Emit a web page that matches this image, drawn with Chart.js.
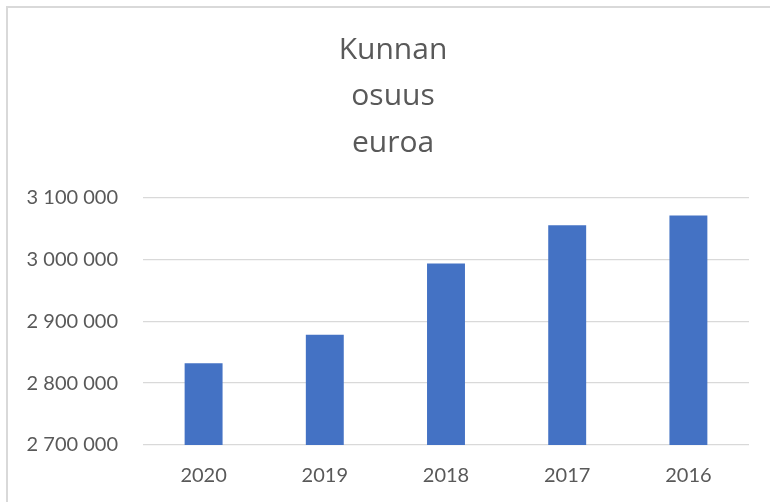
<!DOCTYPE html>
<html>
<head>
<meta charset="utf-8">
<script src="https://cdn.jsdelivr.net/npm/chart.js@4/dist/chart.umd.min.js"></script>
<style>
  html, body { margin: 0; padding: 0; background: #ffffff; overflow: hidden; width: 770px; height: 502px; }
  #wrap { position: absolute; left: 0; top: 0; width: 786px; height: 502px; }
  #frame { position: absolute; left: 6px; top: 6px; width: 800px; height: 520px;
           border-left: 2px solid #d9d9d9; border-top: 2px solid #d9d9d9; pointer-events: none; box-sizing: border-box; }
</style>
</head>
<body>
<div id="wrap"><canvas id="c" width="786" height="502"></canvas></div>
<div id="frame"></div>
<script>
const titleLines = ['Kunnan', 'osuus', 'euroa'];
const categories = ['2020', '2019', '2018', '2017', '2016'];
const values = [2832000, 2878000, 2993500, 3055200, 3071000];
const yMin = 2700000;
const yMax = 3100000;
const yStep = 100000;

function fmt(v) {
  return String(Math.round(v)).replace(/\B(?=(\d{3})+(?!\d))/g, ' ');
}

const textColor = '#595959';
const gridColor = '#d9d9d9';

new Chart(document.getElementById('c'), {
  type: 'bar',
  data: {
    labels: categories,
    datasets: [{
      label: 'Kunnan osuus euroa',
      data: values,
      backgroundColor: '#4472C4',
      borderWidth: 0,
      categoryPercentage: 1.0,
      barPercentage: 0.313
    }]
  },
  options: {
    responsive: false,
    animation: false,
    devicePixelRatio: 1,
    layout: { padding: { left: 0, right: 0, top: 0, bottom: 14 } },
    plugins: {
      legend: { display: false },
      tooltip: { enabled: false },
      title: {
        display: true,
        text: titleLines,
        color: textColor,
        font: { family: 'Open Sans', size: 30, weight: 'normal', lineHeight: 1.55 },
        padding: { top: 27, bottom: 31 }
      }
    },
    scales: {
      x: {
        afterFit: (s) => { s.height = 43; },
        grid: { display: false, drawTicks: false },
        border: { display: false },
        ticks: { color: textColor, font: { family: 'Lato', size: 20 }, padding: 19 }
      },
      y: {
        min: yMin,
        max: yMax,
        afterFit: (s) => { s.width = 143; },
        grid: { color: gridColor, lineWidth: 1.3, drawTicks: false },
        border: { display: false },
        ticks: {
          stepSize: yStep,
          color: textColor,
          font: { family: 'Lato', size: 20 },
          padding: 25,
          callback: (v) => fmt(v)
        }
      },
      spacer: {
        type: 'linear',
        position: 'right',
        display: true,
        min: yMin,
        max: yMax,
        afterFit: (s) => { s.width = 37; },
        grid: { display: false, drawTicks: false },
        border: { display: false },
        ticks: { display: false }
      }
    }
  }
});
</script>
</body>
</html>
